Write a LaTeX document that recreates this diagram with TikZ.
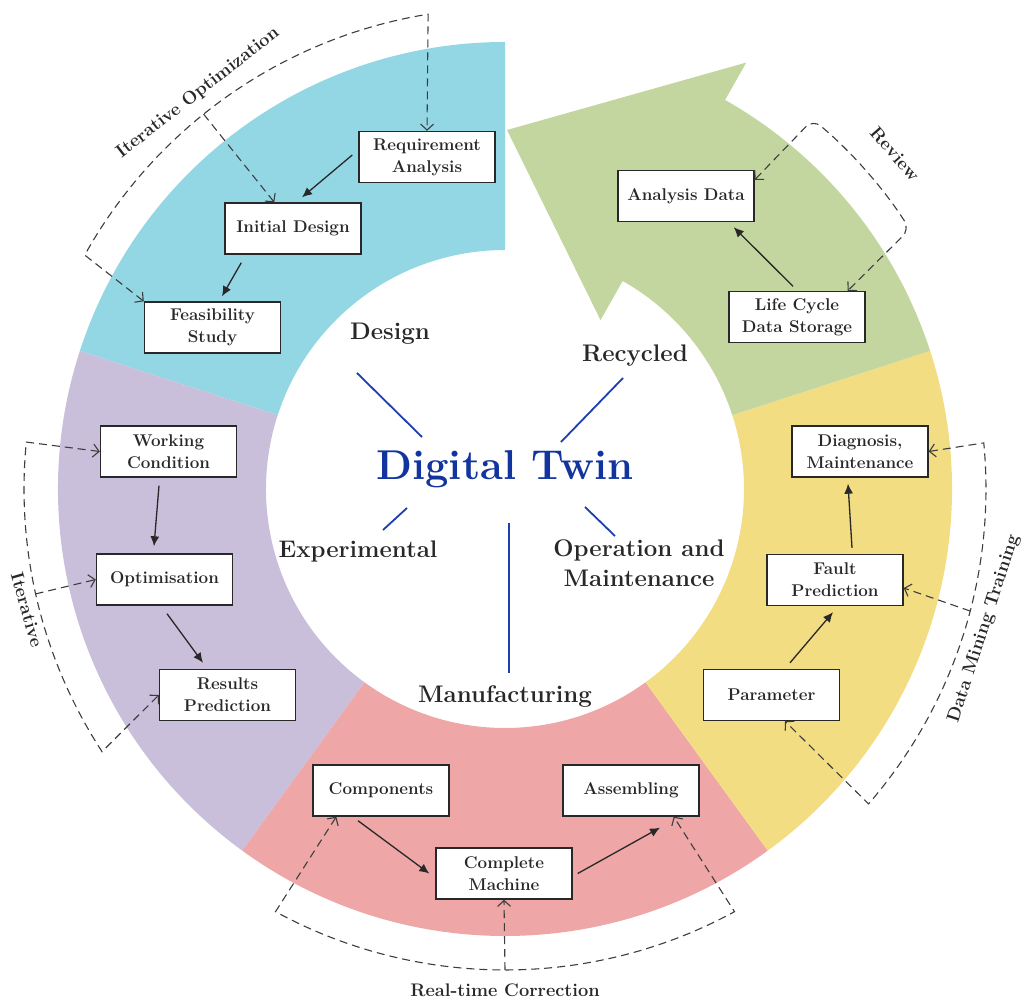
\documentclass[tikz,border=0pt]{standalone}
\usetikzlibrary{arrows.meta,calc}

\definecolor{segDesign}{RGB}{147,215,229}
\definecolor{segExp}{RGB}{202,191,219}
\definecolor{segMan}{RGB}{238,166,166}
\definecolor{segOp}{RGB}{242,221,130}
\definecolor{segRec}{RGB}{196,214,160}
\definecolor{twinblue}{RGB}{18,52,158}
\definecolor{spokeblue}{RGB}{28,62,176}
\definecolor{inkgray}{RGB}{40,40,40}

\begin{document}
\begin{tikzpicture}[x=1pt,y=1pt,
  stage/.style={draw=inkgray, line width=1.4pt, fill=white, text=inkgray,
    minimum width=136pt, minimum height=51pt, inner sep=0pt, align=center,
    font=\fontsize{17}{22}\selectfont\bfseries},
  flow/.style={draw=inkgray, line width=1.3pt, -{Latex[length=10pt,width=9pt]}},
  loop/.style={draw=inkgray!90, line width=1.1pt, dash pattern=on 8pt off 5pt},
  barb/.style={-{Straight Barb[length=6pt,width=13pt]}},
  barbs/.style={{Straight Barb[length=6pt,width=13pt]}-{Straight Barb[length=6pt,width=13pt]}},
  phase/.style={text=inkgray, font=\fontsize{24}{28}\selectfont\bfseries},
  looplabel/.style={text=inkgray, font=\fontsize{18.2}{22}\selectfont\bfseries},
  spoke/.style={draw=spokeblue, line width=1.8pt}
]
\useasboundingbox (-505,-511) rectangle (519,489);

% ring segments
\fill[segDesign] (90:239) arc[start angle=90,end angle=162,radius=239]
  -- (162:447) arc[start angle=162,end angle=90,radius=447] -- cycle;
\fill[segExp] (162:239) arc[start angle=162,end angle=234,radius=239]
  -- (234:447) arc[start angle=234,end angle=162,radius=447] -- cycle;
\fill[segMan] (234:239) arc[start angle=234,end angle=306,radius=239]
  -- (306:447) arc[start angle=306,end angle=234,radius=447] -- cycle;
\fill[segOp] (-54:239) arc[start angle=-54,end angle=18,radius=239]
  -- (18:447) arc[start angle=18,end angle=-54,radius=447] -- cycle;
% recycling segment ending in an arrow head
\fill[segRec] (18:239) arc[start angle=18,end angle=60.5,radius=239]
  -- (60.5:194) -- (2,359) -- (60.5:490) -- (60.5:447)
  arc[start angle=60.5,end angle=18,radius=447] -- cycle;

% centre
\node[anchor=base, text=twinblue, font=\fontsize{41.7}{46}\selectfont\bfseries] (twin) at (0,9) {Digital Twin};
\node[phase, anchor=base] (design) at (-115,149) {Design};
\node[phase, anchor=base] (recycled) at (130,127) {Recycled};
\node[phase, anchor=base] (experimental) at (-147,-69) {Experimental};
\node[phase, anchor=base] (operation) at (134,-68) {Operation and};
\node[phase, anchor=base] (maintenance) at (134,-98) {Maintenance};
\node[phase, anchor=base] (manufacturing) at (0,-213) {Manufacturing};

% spokes
\coordinate (sd1) at (-148,116); \coordinate (sd2) at (-83,52);
\coordinate (sr1) at (118,111);  \coordinate (sr2) at (56,47);
\coordinate (se1) at (-98,-19);  \coordinate (se2) at (-122,-41);
\coordinate (so1) at (80,-18);   \coordinate (so2) at (110,-47);
\coordinate (sm1) at (4,-34);    \coordinate (sm2) at (4,-184);
\draw[spoke] (sd1) -- (sd2);
\draw[spoke] (sr1) -- (sr2);
\draw[spoke] (se1) -- (se2);
\draw[spoke] (so1) -- (so2);
\draw[spoke] (sm1) -- (sm2);

% stage boxes
\node[stage] (req)  at (-78,332)     {Requirement\\Analysis};
\node[stage] (init) at (-212,260.5)  {Initial Design};
\node[stage] (feas) at (-292.5,161.5){Feasibility\\Study};
\node[stage] (ana)  at (181,293)     {Analysis Data};
\node[stage] (lcds) at (292,172)     {Life Cycle\\Data Storage};
\node[stage] (wc)   at (-336.5,37.5) {Working\\Condition};
\node[stage] (opt)  at (-340.5,-90.5){Optimisation};
\node[stage] (rp)   at (-277.5,-206) {Results\\Prediction};
\node[stage] (dia)  at (355,37.5)    {Diagnosis,\\Maintenance};
\node[stage] (fp)   at (330,-91)     {Fault\\Prediction};
\node[stage] (par)  at (266.5,-206)  {Parameter};
\node[stage] (comp) at (-124,-301.5) {Components};
\node[stage] (cm)   at (-1,-384.5)   {Complete\\Machine};
\node[stage] (asm)  at (126,-301.5)  {Assembling};

% process flow
\draw[flow] ($(req.west)+(-6,2)$) -- ($(init.north)+(9,5)$);
\draw[flow] ($(init.south west)+(17,-8)$) -- ($(feas.north)+(9.5,5)$);
\draw[flow] ($(lcds.north)+(-4,4.5)$) -- ($(ana.south east)+(-21,-5)$);
\draw[flow] ($(wc.south)+(-9.5,-8)$) -- ($(opt.north)+(-10.5,7)$);
\draw[flow] ($(opt.south)+(2.5,-8)$) -- ($(rp.north)+(-24.5,6)$);
\draw[flow] ($(par.north)+(18.5,6)$) -- ($(fp.south)+(-2,-6)$);
\draw[flow] ($(fp.north)+(17,6)$) -- ($(dia.south)+(-12,-6)$);
\draw[flow] ($(comp.south)+(-23,-4)$) -- ($(cm.west)+(-6,0)$);
\draw[flow] ($(cm.east)+(5,0)$) -- ($(asm.south)+(29,-11)$);

% feedback loops
\draw[loop, barbs] (feas.north west) -- (150.9:481)
  arc[start angle=150.9,end angle=99.2,radius=481] -- (req.north);
\draw[loop, barb] (128.8:481) -- ($(init.north west)+(50,0)$);

\draw[loop, barbs, rounded corners=10pt] ($(ana.north east)+(0,-10)$) -- (50.2:481)
  arc[start angle=50.2,end angle=32.7,radius=481] -- ($(lcds.north east)+(-18,0)$);

\draw[loop, barbs] (wc.west) -- (174.4:481)
  arc[start angle=174.4,end angle=213.1,radius=481] -- (rp.west);
\draw[loop, barb] (192.6:481) -- (opt.west);

\draw[loop, barbs] (dia.east) -- (5.5:481)
  arc[start angle=5.5,end angle=-40.9,radius=481] -- ($(par.south)+(13.5,0)$);
\draw[loop, barb] (-14.7:481) -- ($(fp.east)+(0,-8)$);

\draw[loop, barbs] ($(comp.south west)+(24,0)$) -- (241.5:481)
  arc[start angle=241.5,end angle=298.5,radius=481] -- ($(asm.south east)+(-26,0)$);
\draw[loop, barb] (270:481) -- (cm.south);

% loop labels
\node[looplabel, rotate=38]  (lblio) at (-307,396) {Iterative Optimization};
\node[looplabel, rotate=-49] (lblrev) at (390,335) {Review};
\node[looplabel, rotate=-74] (lblit) at (-478,-121) {Iterative};
\node[looplabel, rotate=72]  (lbldm) at (479,-140) {Data Mining Training};
\node[looplabel] (lblrt) at (0,-501) {Real-time Correction};
\end{tikzpicture}
\end{document}
